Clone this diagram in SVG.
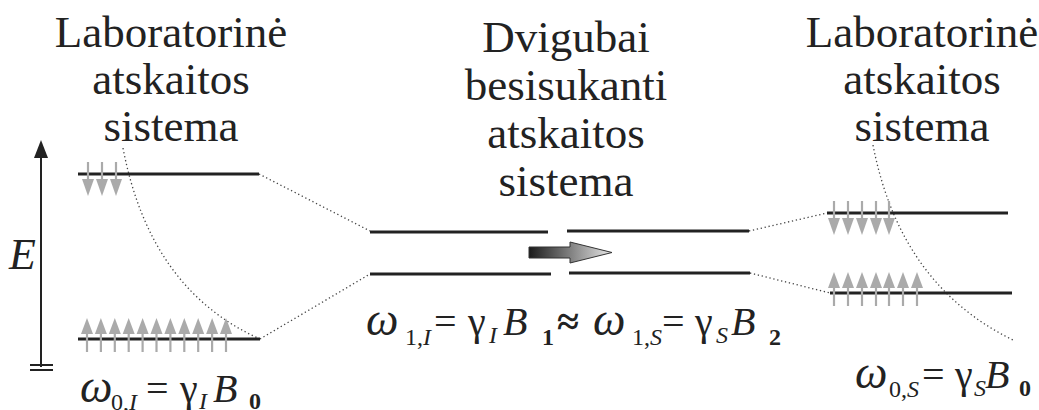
<svg xmlns="http://www.w3.org/2000/svg" xmlns:xlink="http://www.w3.org/1999/xlink" width="1039" height="410" viewBox="0 0 1039 410">
<defs>
<style>
.lvl{stroke:#222;stroke-width:3;fill:none}
.dot{stroke:#444;stroke-width:1.3;stroke-dasharray:1.3 2.7;fill:none}
.ax{stroke:#222;stroke-width:2;fill:none}
</style>
<g id="dn"><line x1="0" y1="-12" x2="0" y2="6" stroke="#aaa" stroke-width="2.2"/><polygon points="-6,5 6,5 0,22" fill="#aaa"/></g>
<g id="up"><line x1="0" y1="-6" x2="0" y2="13" stroke="#aaa" stroke-width="2.2"/><polygon points="-6,-5 6,-5 0,-21" fill="#aaa"/></g>
<linearGradient id="gr" x1="529" y1="0" x2="612" y2="0" gradientUnits="userSpaceOnUse"><stop offset="0" stop-color="#1a1a1a"/><stop offset="1" stop-color="#e8e8e8"/></linearGradient>
</defs>

<g id="title-left" font-family="Liberation Serif" font-size="36" text-anchor="middle" fill="#222">
<text transform="translate(171,47) scale(1.25)">Laboratorinė</text>
<text transform="translate(171,94) scale(1.25)">atskaitos</text>
<text transform="translate(171,141) scale(1.25)">sistema</text>
</g>
<g id="title-mid" font-family="Tinos" font-size="45" text-anchor="middle" fill="#222">
<text x="566" y="52">Dvigubai</text>
<text x="566" y="100">besisukanti</text>
<text x="566" y="148">atskaitos</text>
<text x="566" y="196">sistema</text>
</g>
<g id="title-right" font-family="Times New Roman" font-size="45" text-anchor="middle" fill="#222">
<text x="922" y="47">Laboratorinė</text>
<text x="922" y="94">atskaitos</text>
<text x="922" y="141">sistema</text>
</g>

<g id="axis">
<line class="ax" x1="41" y1="152" x2="41" y2="367"/>
<polygon points="41,140 34,158 48,158" fill="#222"/>
<line class="ax" x1="30" y1="365" x2="53" y2="365"/>
<line class="ax" x1="30" y1="370" x2="53" y2="370"/>
<text x="9" y="269" font-family="Liberation Serif" font-size="44" font-style="italic" fill="#222">E</text>
</g>

<g id="connectors">
<path class="dot" d="M123,148 Q150,290 260,339"/>
<path class="dot" d="M873,145 Q900,285 1013,340"/>
<line class="dot" x1="259" y1="174" x2="370" y2="231"/>
<line class="dot" x1="260" y1="339" x2="370" y2="274"/>
<line class="dot" x1="749" y1="231" x2="827" y2="213"/>
<line class="dot" x1="750" y1="273" x2="830" y2="293"/>
</g>

<g id="lab-I">
<line class="lvl" x1="78" y1="174" x2="259" y2="174"/>
<line class="lvl" x1="78" y1="339" x2="260" y2="339"/>
<use xlink:href="#dn" x="88" y="174"/>
<use xlink:href="#dn" x="102" y="174"/>
<use xlink:href="#dn" x="116" y="174"/>
<use xlink:href="#up" x="87" y="339"/>
<use xlink:href="#up" x="100.9" y="339"/>
<use xlink:href="#up" x="114.8" y="339"/>
<use xlink:href="#up" x="128.7" y="339"/>
<use xlink:href="#up" x="142.6" y="339"/>
<use xlink:href="#up" x="156.5" y="339"/>
<use xlink:href="#up" x="170.4" y="339"/>
<use xlink:href="#up" x="184.3" y="339"/>
<use xlink:href="#up" x="198.2" y="339"/>
<use xlink:href="#up" x="212.1" y="339"/>
<use xlink:href="#up" x="226" y="339"/>
</g>

<g id="rot">
<line class="lvl" x1="370" y1="232" x2="548" y2="232"/>
<line class="lvl" x1="567" y1="231" x2="749" y2="231"/>
<line class="lvl" x1="370" y1="274" x2="551" y2="274"/>
<line class="lvl" x1="569" y1="273" x2="750" y2="273"/>
<polygon points="529,247 570,247 570,242 612,252.5 570,263 570,258 529,258" fill="url(#gr)" stroke="#333" stroke-width="1"/>
</g>

<g id="lab-S">
<line class="lvl" x1="827" y1="213" x2="1008" y2="213"/>
<line class="lvl" x1="830" y1="293" x2="1012" y2="293"/>
<use xlink:href="#dn" x="834" y="213"/>
<use xlink:href="#dn" x="848" y="213"/>
<use xlink:href="#dn" x="862" y="213"/>
<use xlink:href="#dn" x="876" y="213"/>
<use xlink:href="#dn" x="889" y="213"/>
<use xlink:href="#up" x="834" y="293"/>
<use xlink:href="#up" x="848" y="293"/>
<use xlink:href="#up" x="862" y="293"/>
<use xlink:href="#up" x="876" y="293"/>
<use xlink:href="#up" x="889" y="293"/>
<use xlink:href="#up" x="903" y="293"/>
<use xlink:href="#up" x="917" y="293"/>
</g>

<g id="formula-left" font-family="Liberation Serif" font-size="40" fill="#222">
<text x="80" y="402" font-size="46" font-style="italic">ω</text>
<text x="111" y="410" font-size="24">0,<tspan font-style="italic">I</tspan></text>
<text transform="translate(146,402) scale(1.111)" font-size="36">=</text>
<text transform="translate(180,402) scale(1.111)" font-size="36">γ</text>
<text x="199" y="409" font-size="24" font-style="italic">I</text>
<text x="213" y="402" font-style="italic">B</text>
<text x="249" y="409" font-size="24" font-weight="bold">0</text>
</g>

<g id="formula-mid" font-family="Liberation Serif" font-size="40" fill="#222">
<text x="366" y="335" font-size="46" font-style="italic">ω</text>
<text x="405" y="345" font-size="24">1,<tspan font-style="italic">I</tspan></text>
<text x="434" y="335" font-family="Tinos">=</text>
<text x="468" y="335" font-family="Tinos">γ</text>
<text x="489" y="343" font-size="24" font-style="italic">I</text>
<text x="503" y="335" font-style="italic">B</text>
<text x="542" y="345" font-size="24" font-weight="bold">1</text>
<text x="557" y="335" font-weight="bold">≈</text>
<text x="593" y="335" font-size="46" font-style="italic">ω</text>
<text x="632" y="345" font-size="24">1,<tspan font-style="italic">S</tspan></text>
<text x="662" y="335" font-family="Tinos">=</text>
<text x="695" y="335" font-family="Tinos">γ</text>
<text x="716" y="343" font-size="24" font-style="italic">S</text>
<text x="731" y="335" font-style="italic">B</text>
<text x="769" y="345" font-size="24" font-weight="bold">2</text>
</g>

<g id="formula-right" font-family="Liberation Serif" font-size="40" fill="#222">
<text x="855" y="388" font-size="46" font-style="italic">ω</text>
<text x="889" y="397" font-size="24">0,<tspan font-style="italic">S</tspan></text>
<text x="922" y="388" font-family="Times New Roman">=</text>
<text x="955" y="388" font-family="Times New Roman">γ</text>
<text x="974" y="396" font-size="24" font-style="italic">S</text>
<text x="985" y="388" font-style="italic">B</text>
<text x="1019" y="396" font-size="24" font-weight="bold">0</text>
</g>
</svg>
